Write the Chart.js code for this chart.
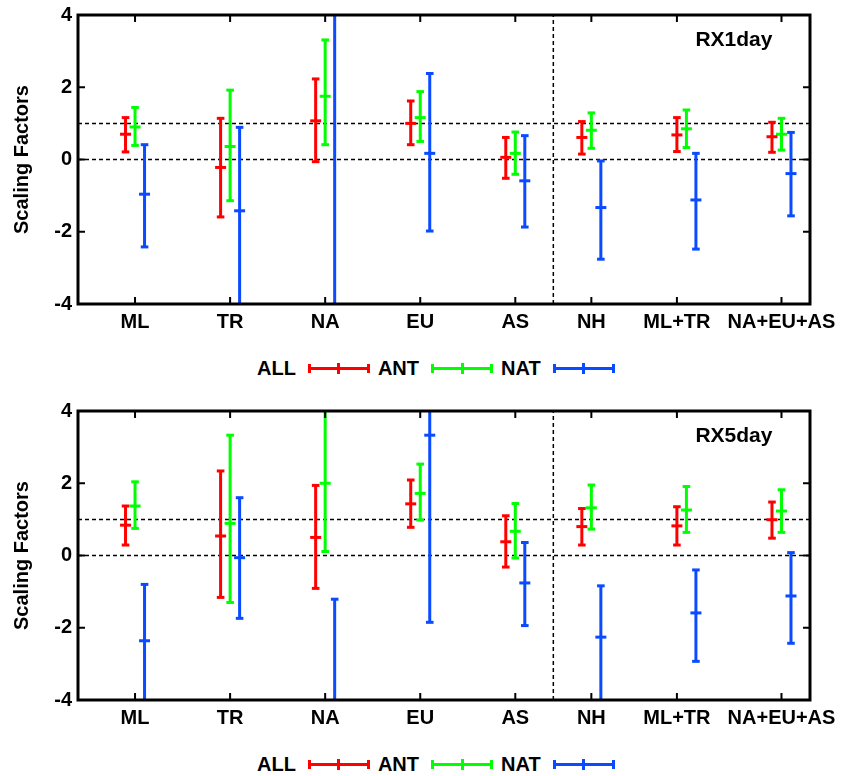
<!DOCTYPE html>
<html>
<head>
<meta charset="utf-8">
<script src="https://cdn.jsdelivr.net/npm/chart.js@4.4.0/dist/chart.umd.min.js"></script>
<style>
body { margin: 0; background: #fff; font-family: "Liberation Sans", Arial, sans-serif; }
#page { position: relative; width: 841px; height: 776px; overflow: hidden; }
canvas { display: block; }
.legend { position: relative; height: 56px; }
.legend-row { position: absolute; left: 257px; top: 0; height: 56px; display: flex; align-items: center;
  font-weight: bold; font-size: 20px; color: #000; }
.sym { position: relative; width: 62px; height: 12px; margin: 0 8px 0 12px; }
.sym span { position: absolute; display: block; }
</style>
</head>
<body>
<div id="page">
  <canvas id="chart-rx1" width="841" height="340"></canvas>
  <div class="legend" id="legend-rx1"></div>
  <canvas id="chart-rx5" width="841" height="340"></canvas>
  <div class="legend" id="legend-rx5"></div>
</div>
<script>
// regions and where they sit on the x axis
const categories = ['ML', 'TR', 'NA', 'EU', 'AS', 'NH', 'ML+TR', 'NA+EU+AS'];
const groupX = [1, 2, 3, 4, 5, 5.8, 6.8, 7.8];
const tickX = [1, 2, 3, 4, 5, 5.8, 6.7, 7.8];
const dividerX = 5.4;
const refLines = [0, 1];
const yTicks = [-4, -2, 0, 2, 4];

const seriesNames = ['ALL', 'ANT', 'NAT'];
const seriesColors = ['#ff0000', '#00ff00', '#0a4bff'];
const seriesOffset = [-0.1, 0, 0.1];

// RX1day: best estimate and 5-95% range
const rx1AllBest = [0.70, -0.22, 1.07, 1.00, 0.06, 0.61, 0.68, 0.63];
const rx1AllLow = [0.21, -1.59, -0.06, 0.41, -0.52, 0.15, 0.22, 0.20];
const rx1AllHigh = [1.16, 1.14, 2.23, 1.62, 0.61, 1.05, 1.16, 1.03];
const rx1AntBest = [0.90, 0.36, 1.75, 1.16, 0.17, 0.81, 0.85, 0.70];
const rx1AntLow = [0.39, -1.14, 0.41, 0.50, -0.41, 0.31, 0.33, 0.26];
const rx1AntHigh = [1.44, 1.92, 3.31, 1.88, 0.76, 1.29, 1.37, 1.14];
const rx1NatBest = [-0.96, -1.42, 5.5, 0.17, -0.59, -1.33, -1.12, -0.39];
const rx1NatLow = [-2.42, -4.6, -9, -1.98, -1.87, -2.76, -2.48, -1.56];
const rx1NatHigh = [0.41, 0.89, 20, 2.38, 0.66, -0.04, 0.17, 0.75];

// RX5day
const rx5AllBest = [0.84, 0.54, 0.50, 1.43, 0.38, 0.80, 0.82, 0.99];
const rx5AllLow = [0.29, -1.16, -0.91, 0.78, -0.32, 0.29, 0.29, 0.48];
const rx5AllHigh = [1.37, 2.34, 1.94, 2.09, 1.10, 1.30, 1.35, 1.48];
const rx5AntBest = [1.37, 0.89, 2.00, 1.72, 0.67, 1.32, 1.26, 1.23];
const rx5AntLow = [0.75, -1.30, 0.11, 0.98, -0.07, 0.73, 0.64, 0.64];
const rx5AntHigh = [2.04, 3.33, 4.2, 2.53, 1.44, 1.95, 1.91, 1.82];
const rx5NatBest = [-2.36, -0.06, -5.5, 3.33, -0.76, -2.26, -1.59, -1.12];
const rx5NatLow = [-4.3, -1.74, -10, -1.85, -1.94, -4.1, -2.93, -2.43];
const rx5NatHigh = [-0.80, 1.60, -1.21, 8.5, 0.36, -0.84, -0.40, 0.08];

const fontFamily = '"Liberation Sans", Arial, sans-serif';
Chart.defaults.font.family = fontFamily;
Chart.defaults.color = '#000';

const framePlugin = {
    id: 'panelFrame',
    afterDraw(chart, args, opts) {
        const ctx = chart.ctx;
        const a = chart.chartArea;
        const x = chart.scales.x;
        const y = chart.scales.y;
        ctx.save();
        ctx.strokeStyle = '#000';
        ctx.lineWidth = 2;
        ctx.beginPath();
        tickX.forEach(v => {
            const px = x.getPixelForValue(v);
            ctx.moveTo(px, a.top); ctx.lineTo(px, a.top + 7);
            ctx.moveTo(px, a.bottom); ctx.lineTo(px, a.bottom - 7);
        });
        yTicks.forEach(v => {
            const py = y.getPixelForValue(v);
            ctx.moveTo(a.left, py); ctx.lineTo(a.left + 7, py);
            ctx.moveTo(a.right, py); ctx.lineTo(a.right - 7, py);
        });
        ctx.stroke();
        ctx.lineWidth = 3;
        ctx.strokeRect(a.left, a.top, a.right - a.left, a.bottom - a.top);
        ctx.fillStyle = '#000';
        ctx.font = 'bold 21px ' + fontFamily;
        ctx.textAlign = 'center';
        ctx.textBaseline = 'middle';
        ctx.fillText(opts.label, x.getPixelForValue(7.3), y.getPixelForValue(3.3));
        ctx.restore();
    }
};

function whiskerData(xs, low, high) {
    const pts = [];
    xs.forEach((x, i) => {
        pts.push({ x: x, y: low[i] }, { x: x, y: high[i] }, { x: x, y: null });
    });
    return pts;
}

function buildDatasets(best, low, high) {
    const datasets = [];
    seriesNames.forEach((name, s) => {
        const xs = groupX.map(g => g + seriesOffset[s]);
        datasets.push({
            label: name + ' range',
            data: whiskerData(xs, low[s], high[s]),
            showLine: true,
            borderColor: seriesColors[s],
            borderWidth: 3,
            pointStyle: 'line',
            pointRadius: 3.8,
            pointBorderWidth: 3,
            pointBorderColor: seriesColors[s],
            spanGaps: false
        });
        datasets.push({
            label: name,
            data: xs.map((x, i) => ({ x: x, y: best[s][i] })),
            showLine: false,
            pointStyle: 'line',
            pointRadius: 5.5,
            pointBorderWidth: 3,
            pointBorderColor: seriesColors[s]
        });
    });
    refLines.forEach(v => {
        datasets.push({
            label: 'ref ' + v,
            data: [{ x: 0.4, y: v }, { x: 8.1, y: v }],
            showLine: true, borderColor: '#000', borderWidth: 1.5, borderDash: [4, 3], pointRadius: 0
        });
    });
    datasets.push({
        label: 'divider',
        data: [{ x: dividerX, y: -4 }, { x: dividerX, y: 4 }],
        showLine: true, borderColor: '#000', borderWidth: 1.5, borderDash: [4, 3], pointRadius: 0
    });
    return datasets;
}

function makeChart(canvasId, label, best, low, high) {
    const ctx = document.getElementById(canvasId);
    return new Chart(ctx, {
        type: 'scatter',
        data: { datasets: buildDatasets(best, low, high) },
        options: {
            responsive: false,
            animation: false,
            events: [],
            layout: { padding: { top: 15, right: 31, left: 0, bottom: 0 } },
            plugins: {
                legend: { display: false },
                tooltip: { enabled: false },
                panelFrame: { label: label }
            },
            scales: {
                x: {
                    type: 'linear', min: 0.4, max: 8.1,
                    grid: { display: false, drawTicks: false },
                    border: { display: false },
                    afterBuildTicks: sc => { sc.ticks = tickX.map(v => ({ value: v })); },
                    afterFit: sc => { sc.height = 36; sc.paddingLeft = 0; sc.paddingRight = 0; },
                    ticks: {
                        autoSkip: false, maxRotation: 0, padding: 6, color: '#000',
                        font: { size: 20, weight: 'bold' },
                        callback: (v, i) => categories[i]
                    }
                },
                y: {
                    min: -4, max: 4,
                    grid: { display: false, drawTicks: false },
                    border: { display: false },
                    afterFit: sc => { sc.width = 78; sc.paddingTop = 0; sc.paddingBottom = 0; },
                    ticks: { stepSize: 2, padding: 6, color: '#000', font: { size: 20, weight: 'bold' } },
                    title: {
                        display: true, text: 'Scaling Factors', color: '#000',
                        padding: { top: 10, bottom: 0 },
                        font: { size: 20, weight: 'bold' }
                    }
                }
            }
        },
        plugins: [framePlugin]
    });
}

function makeLegend(divId) {
    const row = document.createElement('div');
    row.className = 'legend-row';
    seriesNames.forEach((name, s) => {
        const txt = document.createElement('span');
        txt.textContent = name;
        row.append(txt);
        const sym = document.createElement('div');
        sym.className = 'sym';
        const parts = [
            [0, 5, 62, 3], [0, 1.5, 3, 9.5], [59, 1.5, 3, 9.5], [29.5, 0.5, 3, 11]
        ];
        parts.forEach(p => {
            const el = document.createElement('span');
            el.style.left = p[0] + 'px';
            el.style.top = p[1] + 'px';
            el.style.width = p[2] + 'px';
            el.style.height = p[3] + 'px';
            el.style.background = seriesColors[s];
            sym.append(el);
        });
        row.append(sym);
    });
    document.getElementById(divId).append(row);
}

makeChart('chart-rx1', 'RX1day',
    [rx1AllBest, rx1AntBest, rx1NatBest],
    [rx1AllLow, rx1AntLow, rx1NatLow],
    [rx1AllHigh, rx1AntHigh, rx1NatHigh]);
makeLegend('legend-rx1');

makeChart('chart-rx5', 'RX5day',
    [rx5AllBest, rx5AntBest, rx5NatBest],
    [rx5AllLow, rx5AntLow, rx5NatLow],
    [rx5AllHigh, rx5AntHigh, rx5NatHigh]);
makeLegend('legend-rx5');
</script>
</body>
</html>
